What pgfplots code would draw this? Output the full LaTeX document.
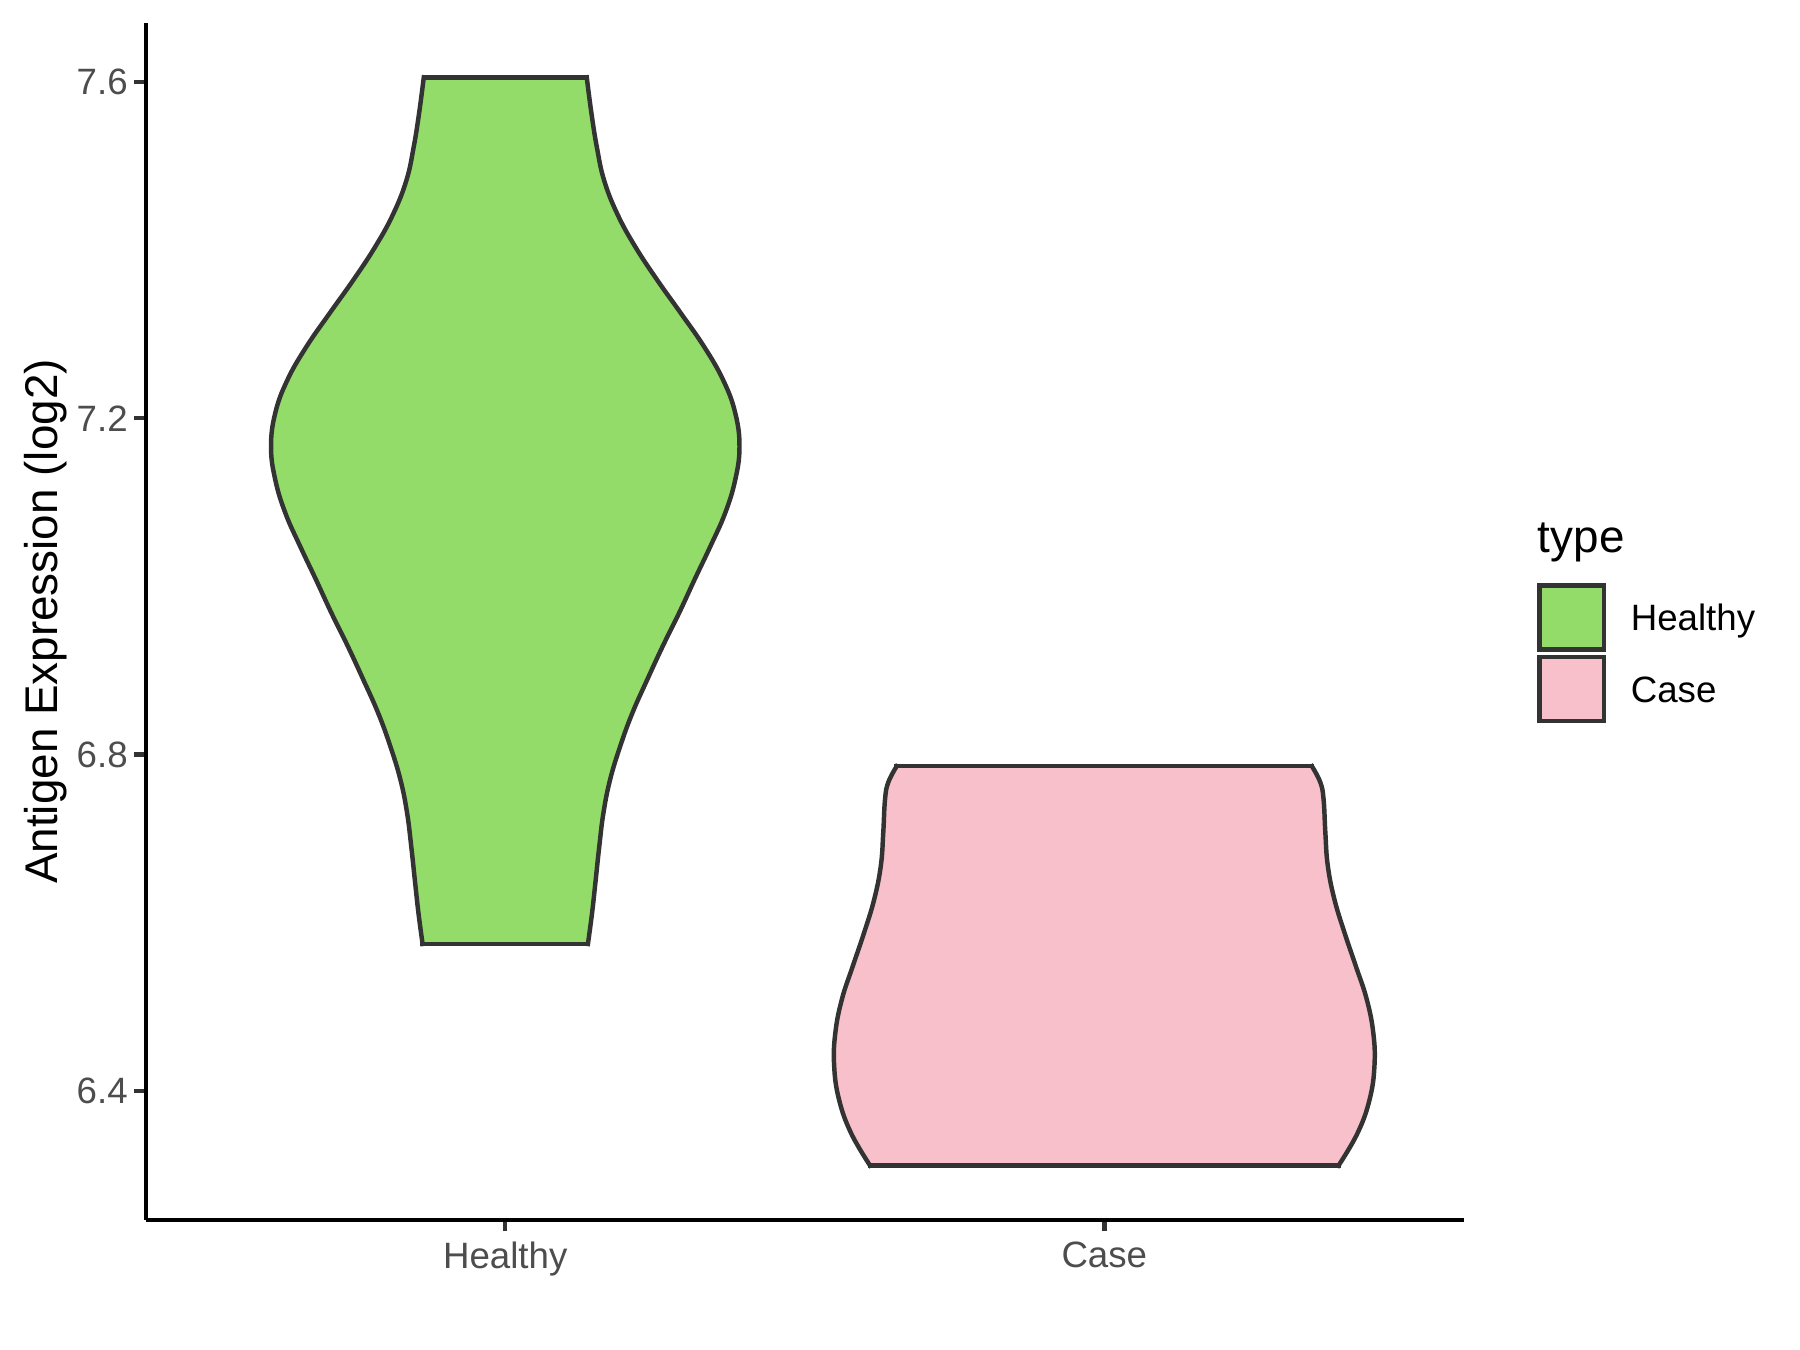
\documentclass[border=0pt]{standalone}
\usepackage{pgfplots}
\pgfplotsset{compat=1.18}
\usepackage{pgfplotstable}
\usepgfplotslibrary{fillbetween}
\usepackage{fontspec}
\setmainfont{Liberation Sans}
\definecolor{grey20}{HTML}{333333}
\definecolor{grey30}{HTML}{4D4D4D}
\definecolor{healthyfill}{HTML}{93DC6A}
\definecolor{casefill}{HTML}{F7C0CA}

% Healthy violin: left and right outline, bottom to top
\pgfplotstableread{
x y
0.862 6.5746
0.855 6.612
0.849 6.651
0.843 6.691
0.836 6.731
0.825 6.770
0.808 6.810
0.788 6.849
0.763 6.889
0.737 6.929
0.710 6.968
0.684 7.008
0.658 7.047
0.633 7.087
0.616 7.127
0.609 7.166
0.616 7.206
0.636 7.245
0.668 7.285
0.707 7.325
0.746 7.364
0.783 7.404
0.813 7.443
0.835 7.483
0.847 7.522
0.856 7.562
0.864 7.6055
}\healthyL
\pgfplotstableread{
x y
1.138 6.5746
1.145 6.612
1.151 6.651
1.157 6.691
1.164 6.731
1.175 6.770
1.192 6.810
1.212 6.849
1.237 6.889
1.263 6.929
1.290 6.968
1.316 7.008
1.342 7.047
1.367 7.087
1.384 7.127
1.391 7.166
1.384 7.206
1.364 7.245
1.332 7.285
1.293 7.325
1.254 7.364
1.217 7.404
1.187 7.443
1.165 7.483
1.153 7.522
1.144 7.562
1.136 7.6055
}\healthyR
% Case violin
\pgfplotstableread{
x y
1.609 6.311
1.577 6.350
1.557 6.390
1.549 6.430
1.551 6.469
1.562 6.509
1.580 6.548
1.599 6.588
1.616 6.628
1.627 6.668
1.631 6.707
1.634 6.747
1.6395 6.767
1.6534 6.786
}\caseL
\pgfplotstableread{
x y
2.391 6.311
2.423 6.350
2.443 6.390
2.451 6.430
2.449 6.469
2.438 6.509
2.420 6.548
2.401 6.588
2.384 6.628
2.373 6.668
2.369 6.707
2.366 6.747
2.3605 6.767
2.3466 6.786
}\caseR

\pgfplotsset{outline/.style={draw=grey20, line width=1.07pt, smooth, tension=0.7, line cap=rect, no markers}}

\begin{document}
\begin{tikzpicture}
\begin{axis}[
  at={(35pt,31.2pt)}, anchor=south west,
  scale only axis, width=316.3pt, height=287.3pt,
  xmin=0.4, xmax=2.6, ymin=6.2463, ymax=7.6702,
  axis lines=left,
  axis line style={-, line width=1.07pt, black},
  xtick={1,2}, xticklabels={Healthy,Case},
  ytick={6.4,6.8,7.2,7.6}, yticklabels={6.4,6.8,7.2,7.6},
  tick align=outside, major tick length=2.75pt,
  tick style={grey20, line width=1.07pt},
  ticklabel style={font=\fontsize{8.8}{10.5}\selectfont, text=grey30, inner sep=0pt},
  xticklabel style={anchor=north, yshift=-2.3pt},
  yticklabel style={anchor=east, xshift=-1.4pt},
  ylabel={Antigen Expression (log2)},
  ylabel style={font=\fontsize{11}{13}\selectfont, at={(axis description cs:-0.0760,0.5)}, anchor=center, inner sep=0pt},
  clip=false,
]
\addplot[outline, name path=HL] table[x=x,y=y] {\healthyL};
\addplot[outline, name path=HR] table[x=x,y=y] {\healthyR};
\addplot[healthyfill] fill between[of=HL and HR, reverse=true];
\addplot[draw=grey20, line width=1.07pt, line cap=rect, no markers] coordinates {(0.864,7.6055) (1.136,7.6055)};
\addplot[draw=grey20, line width=1.07pt, line cap=rect, no markers] coordinates {(0.862,6.5746) (1.138,6.5746)};

\addplot[outline, name path=CL] table[x=x,y=y] {\caseL};
\addplot[outline, name path=CR] table[x=x,y=y] {\caseR};
\addplot[casefill] fill between[of=CL and CR, reverse=true];
\addplot[draw=grey20, line width=1.07pt, line cap=rect, no markers] coordinates {(1.6534,6.786) (2.3466,6.786)};
\addplot[draw=grey20, line width=1.07pt, line cap=rect, no markers] coordinates {(1.609,6.311) (2.391,6.311)};
\end{axis}
% legend
\node[anchor=base west, font=\fontsize{11}{13}\selectfont, inner sep=0pt] at (368.9pt,191.3pt) {type};
\draw[grey20, line width=1.07pt, fill=healthyfill] (369.5pt,168.1pt) rectangle (384.9pt,183.5pt);
\draw[grey20, line width=1.07pt, fill=casefill] (369.5pt,151.0pt) rectangle (384.9pt,166.3pt);
\node[anchor=base west, font=\fontsize{8.8}{10.5}\selectfont, inner sep=0pt] at (391.2pt,172.65pt) {Healthy};
\node[anchor=base west, font=\fontsize{8.8}{10.5}\selectfont, inner sep=0pt] at (391.2pt,155.5pt) {Case};
\pgfresetboundingbox
\useasboundingbox (0pt,0pt) rectangle (432pt,324pt);
\end{tikzpicture}
\end{document}
